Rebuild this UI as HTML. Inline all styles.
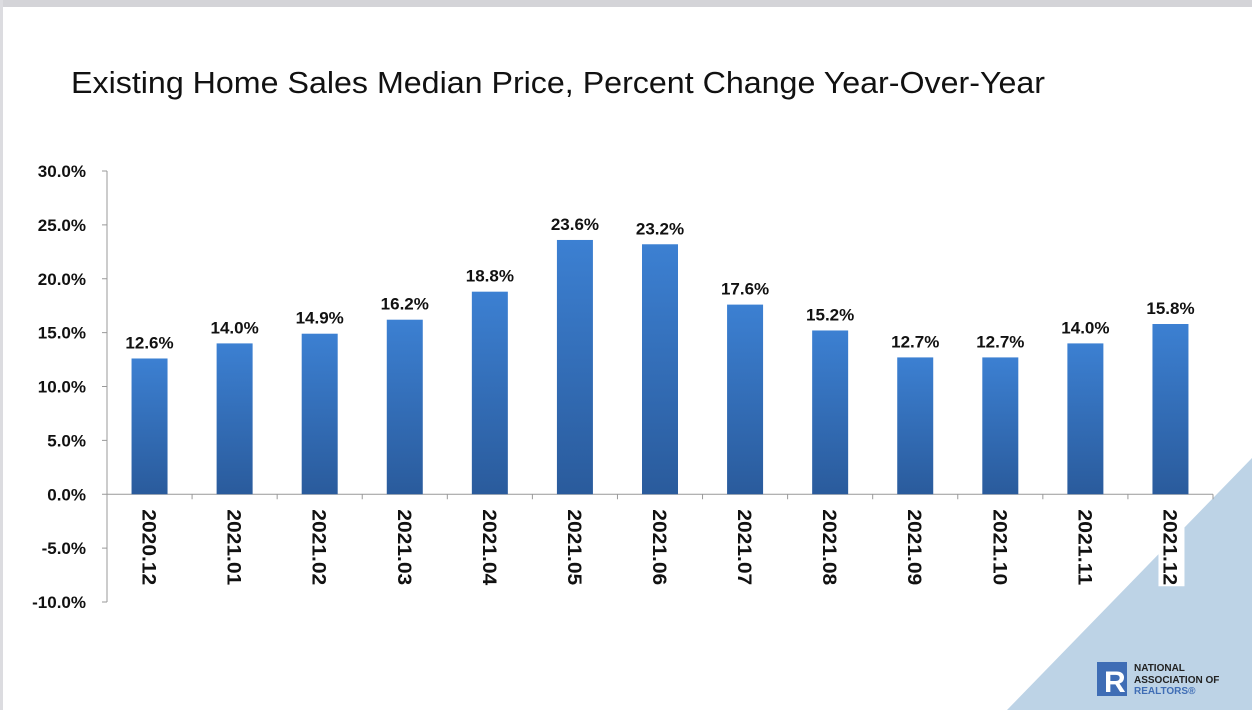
<!DOCTYPE html>
<html><head><meta charset="utf-8"><style>
body{margin:0;width:1252px;height:710px;overflow:hidden;background:#fff;font-family:"Liberation Sans",sans-serif}
</style></head><body>
<svg width="1252" height="710" id="svg" xmlns="http://www.w3.org/2000/svg">
<defs><linearGradient id="g" x1="0" y1="0" x2="0" y2="1"><stop offset="0" stop-color="#3c80d2"/><stop offset="1" stop-color="#2a5b9c"/></linearGradient></defs>
<rect x="0" y="0" width="1252" height="7" fill="#d4d4d8"/>
<rect x="0" y="0" width="3" height="710" fill="#dcdce0"/>
<polygon points="1252,458 1252,710 1007,710" fill="#bdd3e6"/>
<text x="71" y="93" font-size="31" fill="#111" textLength="974" lengthAdjust="spacingAndGlyphs" font-family="Liberation Sans, sans-serif">Existing Home Sales Median Price, Percent Change Year-Over-Year</text>
<g id="plot"></g>
<g>
<rect x="1097" y="662" width="30" height="34" fill="#3f6db5"/>
<text x="1104" y="692" font-size="30" font-weight="bold" fill="#fff">R</text>
<text x="1134" y="671" font-size="10" font-weight="bold" fill="#222">NATIONAL</text>
<text x="1134" y="683" font-size="10" font-weight="bold" fill="#222">ASSOCIATION OF</text>
<text x="1134" y="694" font-size="10" font-weight="bold" fill="#3f6db5">REALTORS®</text>
</g>
</svg>
<script>
const categories=["2020.12","2021.01","2021.02","2021.03","2021.04","2021.05","2021.06","2021.07","2021.08","2021.09","2021.10","2021.11","2021.12"];
const values=[12.6,14.0,14.9,16.2,18.8,23.6,23.2,17.6,15.2,12.7,12.7,14.0,15.8];
const ticks=[30,25,20,15,10,5,0,-5,-10];
const NS="http://www.w3.org/2000/svg",plot=document.getElementById('plot');
const x0=107,x1=1213,yTop=171,yBot=602,vMax=30,vMin=-10;
const y=v=>yTop+(vMax-v)/(vMax-vMin)*(yBot-yTop);
const step=(x1-x0)/categories.length;
const xc=i=>x0+step*(i+0.5);
function mk(t,a){const e=document.createElementNS(NS,t);for(const k in a)e.setAttribute(k,a[k]);plot.appendChild(e);return e;}
const ax=mk('line',{x1:x0,y1:yTop,x2:x0,y2:yBot,stroke:'#999','stroke-width':1});


ticks.forEach(t=>{
 const l=mk('line',{x1:x0-5,y1:y(t),x2:x0,y2:y(t),stroke:'#999'});
 
 
 const tx=mk('text',{x:86,y:y(t)+6,'text-anchor':'end','font-size':17,'font-weight':'bold',fill:'#111'});
 tx.textContent=t.toFixed(1)+'%';
 
 
});
const xa=mk('line',{x1:x0,y1:y(0),x2:x1,y2:y(0),stroke:'#999'});


categories.forEach((c,i)=>{
 const tk=mk('line',{x1:x0+step*(i+1),y1:y(0),x2:x0+step*(i+1),y2:y(0)+5,stroke:'#999'});
 
 
 const v=values[i];
 const b=mk('rect',{x:xc(i)-18,y:y(v),width:36,height:y(0)-y(v),fill:'url(#g)'});
 
 
 const vl=mk('text',{x:xc(i),y:y(v)-10,'text-anchor':'middle','font-size':17,'font-weight':'bold',fill:'#111'});
 vl.textContent=v.toFixed(1)+'%';
 
 
 if(i===categories.length-1){
  const bg=mk('rect',{x:xc(i)-12,y:y(0)+12,width:26,height:80,fill:'#fff'});
  
  
 }
 const cl=mk('text',{x:0,y:0,'font-size':19,'font-weight':'bold',fill:'#111',textLength:76,lengthAdjust:'spacingAndGlyphs',transform:`translate(${xc(i)-7},${y(0)+15}) rotate(90)`});
 cl.textContent=c;
 
 
});
</script>
</body></html>
